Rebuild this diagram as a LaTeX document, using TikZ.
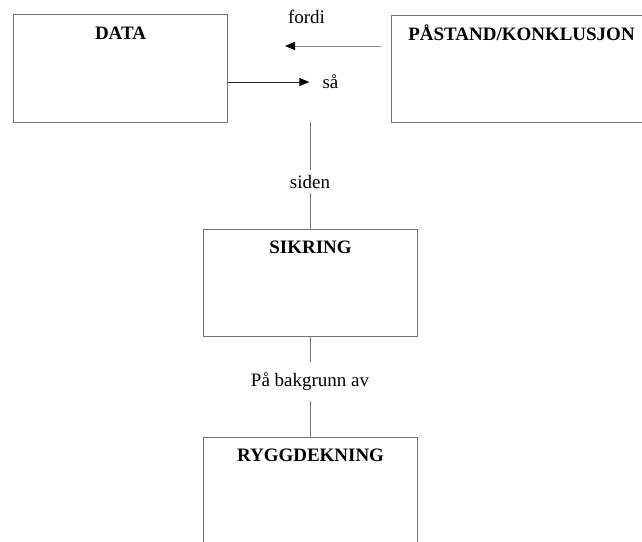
\documentclass[tikz,border=0pt]{standalone}
\usepackage{fontspec}
\setmainfont{Liberation Serif}
\usetikzlibrary{arrows.meta}
\begin{document}
\begin{tikzpicture}[x=0.025cm, y=-0.025cm, every node/.style={font=\fontsize{13.5}{16}\selectfont}]
  \tikzstyle{box}=[draw=black!55,line width=0.7pt,inner xsep=0pt,inner ysep=0pt,minimum width=5.35cm,text height=0.62cm,text depth=2.055cm,font=\fontsize{13.5}{16}\selectfont\bfseries]
  \tikzstyle{link}=[draw=black!55,line width=0.7pt]
  \tikzstyle{arr}=[-{Triangle[length=0.25cm,width=0.2cm,color=black]},line width=0.7pt]
  \useasboundingbox (0,0) rectangle (642,541);
  \node[box] (data) at (120.5,68.5) {DATA};
  \node[box,minimum width=6.475cm] (pastand) at (521.5,69) {PÅSTAND/KONKLUSJON};
  \node[box] (sikring) at (310.5,282.5) {SIKRING};
  \node[box] (ryggdekning) at (310.5,490.5) {RYGGDEKNING};
  \node (fordi) at (306.5,17) {fordi};
  \node[inner xsep=0.325cm] (sa) at (330.5,82) {så};
  \node (siden) at (310,181.5) {siden};
  \node[inner ysep=0.26cm] (bakgrunn) at (310,381.5) {På bakgrunn av};
  \coordinate (fordiTip) at (285,46);
  \coordinate (sidenTop) at (310,122);
  \draw[arr,draw=black!45] ([xshift=-0.25cm]pastand.west |- fordiTip) -- (fordiTip);
  \draw[arr,draw=black!85] (data.east |- sa) -- (sa);
  \draw[link] (sidenTop) -- (siden) -- (siden |- sikring.north);
  \draw[link] (bakgrunn |- sikring.south) -- (bakgrunn) -- (bakgrunn |- ryggdekning.north);
\end{tikzpicture}
\end{document}
